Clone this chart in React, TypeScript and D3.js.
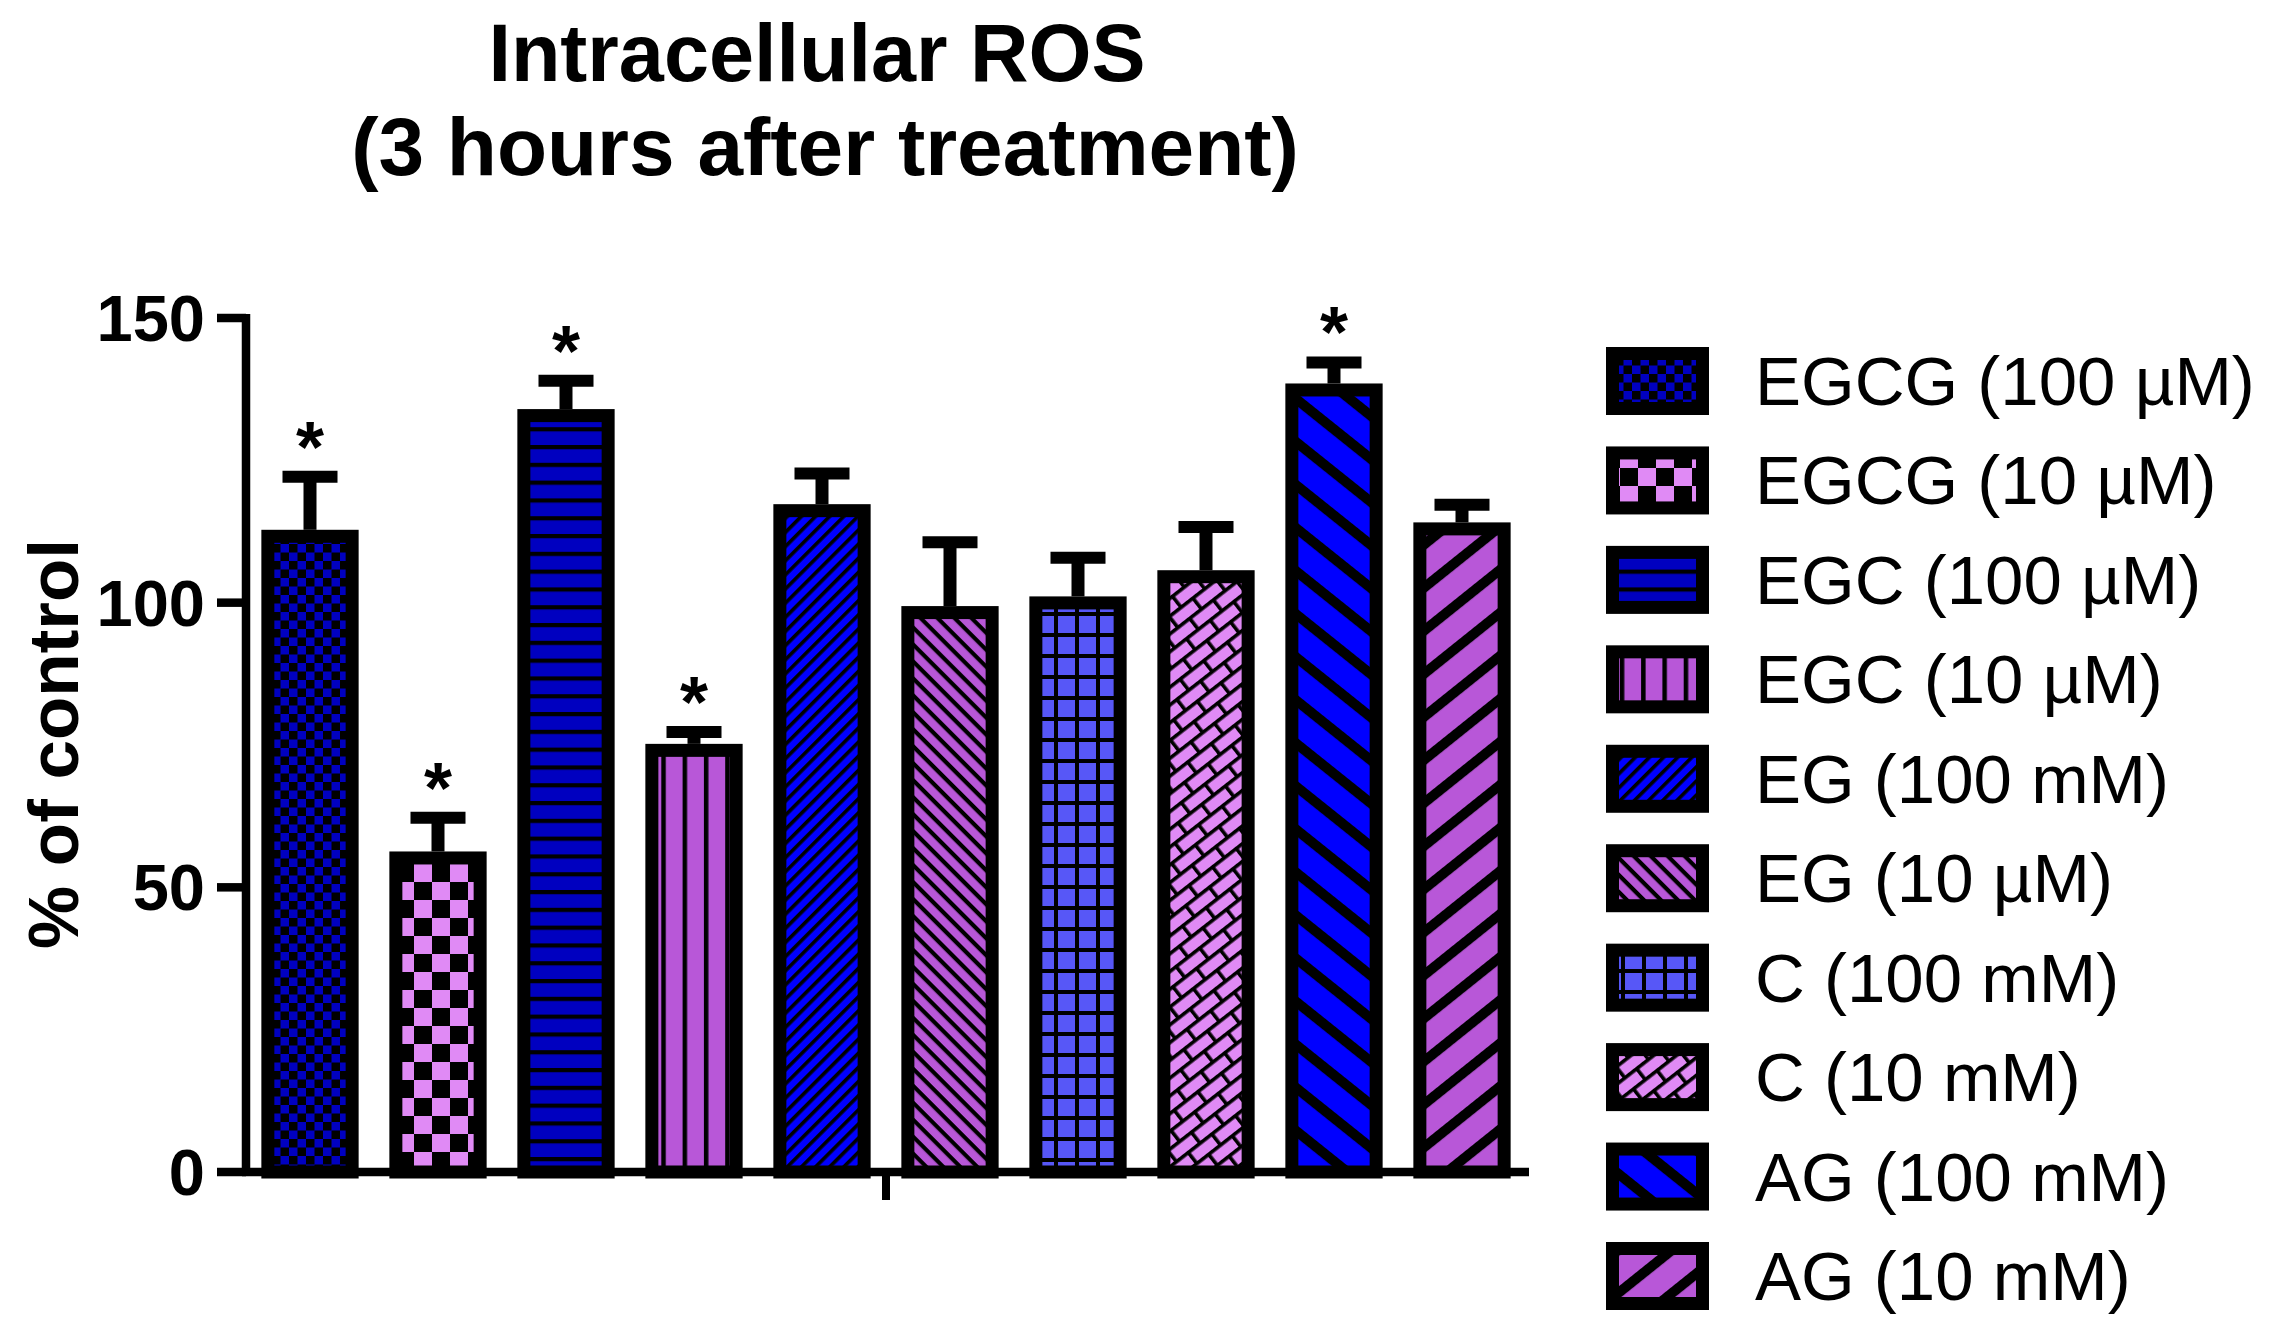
import * as d3 from "d3";
import React from "react";

// values (percent of control, mean and error)
const groups = [
	"EGCG (100 µM)",
	"EGCG (10 µM)",
	"EGC (100 µM)",
	"EGC (10 µM)",
	"EG (100 mM)",
	"EG (10 µM)",
	"C (100 mM)",
	"C (10 mM)",
	"AG (100 mM)",
	"AG (10 mM)",
];
const means = [112.8, 56.3, 134.0, 75.2, 117.3, 99.4, 101.1, 105.7, 138.5, 114.1];
const errors = [9.3, 5.9, 5.0, 2.1, 5.4, 11.2, 6.8, 7.6, 3.7, 3.1];
const significant = [true, true, true, true, false, false, false, false, true, false];
const yTicks = [0, 50, 100, 150];

const W = 2273;
const H = 1335;
const FONT = "'Liberation Sans', Arial, sans-serif";

const DARK_BLUE = "#0000c0";
const PINK = "#e08af5";
const PURPLE = "#b857d8";
const BLUE = "#0000ff";
const MID_BLUE = "#5757f7";

// one fill pattern per group
const Patterns = () => (
	<defs>
		{/* fine checker */}
		<pattern id="pat0" patternUnits="userSpaceOnUse" width={17} height={17}>
			<rect width={17} height={17} fill={DARK_BLUE} />
			<rect width={8.5} height={8.5} fill="#000" />
			<rect x={8.5} y={8.5} width={8.5} height={8.5} fill="#000" />
		</pattern>
		{/* coarse checker */}
		<pattern id="pat1" patternUnits="userSpaceOnUse" width={36} height={36}>
			<rect width={36} height={36} fill={PINK} />
			<rect width={18} height={18} fill="#000" />
			<rect x={18} y={18} width={18} height={18} fill="#000" />
		</pattern>
		{/* horizontal stripes */}
		<pattern id="pat2" patternUnits="userSpaceOnUse" width={20} height={17.8}>
			<rect width={20} height={17.8} fill={DARK_BLUE} />
			<rect width={20} height={4.2} fill="#000" />
		</pattern>
		{/* vertical stripes */}
		<pattern id="pat3" patternUnits="userSpaceOnUse" width={21.3} height={20} x={1}>
			<rect width={21.3} height={20} fill={PURPLE} />
			<rect width={4.5} height={20} fill="#000" />
		</pattern>
		{/* thin / */}
		<pattern id="pat4" patternUnits="userSpaceOnUse" width={20} height={10} patternTransform="rotate(-45)">
			<rect width={20} height={10} fill={BLUE} />
			<rect width={20} height={3.6} fill="#000" />
		</pattern>
		{/* thin \ */}
		<pattern id="pat5" patternUnits="userSpaceOnUse" width={20} height={12} patternTransform="rotate(45)">
			<rect width={20} height={12} fill={PURPLE} />
			<rect width={20} height={4.2} fill="#000" />
		</pattern>
		{/* grid */}
		<pattern id="pat6" patternUnits="userSpaceOnUse" width={21} height={21} x={4} y={3}>
			<rect width={21} height={21} fill={MID_BLUE} />
			<rect width={4} height={21} fill="#000" />
			<rect width={21} height={4} fill="#000" />
		</pattern>
		{/* bricks */}
		<pattern id="pat7" patternUnits="userSpaceOnUse" width={30} height={28} patternTransform="rotate(-38)">
			<rect width={30} height={28} fill={PINK} />
			<rect width={30} height={3.6} fill="#000" />
			<rect y={14} width={30} height={3.6} fill="#000" />
			<rect width={3.6} height={14} fill="#000" />
			<rect x={15} y={14} width={3.6} height={14} fill="#000" />
		</pattern>
		{/* wide \ */}
		<pattern id="pat8" patternUnits="userSpaceOnUse" width={40} height={33.6} patternTransform="rotate(38.7)">
			<rect width={40} height={33.6} fill={BLUE} />
			<rect width={40} height={10} fill="#000" />
		</pattern>
		{/* wide / */}
		<pattern id="pat9" patternUnits="userSpaceOnUse" width={40} height={33.6} patternTransform="rotate(-38.7)">
			<rect width={40} height={33.6} fill={PURPLE} />
			<rect width={40} height={10} fill="#000" />
		</pattern>
	</defs>
);

const App = (): JSX.Element => {
	const axisX = 246;
	const axisEnd = 1529;
	const barStroke = 13;

	const x = d3
		.scaleBand<string>()
		.domain(groups)
		.range([axisX, axisX + 1280])
		.paddingInner(0.24)
		.paddingOuter(0.12);

	const y = d3.scaleLinear().domain([0, 150]).range([1172, 318]);

	const legendY = d3
		.scalePoint<string>()
		.domain(groups)
		.range([381, 1276]);

	const bw = x.bandwidth();
	const midX = (axisX + axisX + 1280) / 2;

	return (
		<svg
			width={W}
			height={H}
			viewBox={`0 0 ${W} ${H}`}
			style={{ position: "absolute", left: 0, top: 0, background: "#fff" }}
			fontFamily={FONT}
		>
			<Patterns />
			<rect width={W} height={H} fill="#fff" />

			{/* title */}
			<text x={817} y={81} textAnchor="middle" fontSize={81} fontWeight="bold">
				Intracellular ROS
			</text>
			<text x={825} y={175} textAnchor="middle" fontSize={82} fontWeight="bold">
				(3 hours after treatment)
			</text>

			{/* y axis */}
			<line x1={axisX} x2={axisX} y1={y(150) - 4} y2={y(0) + 4} stroke="#000" strokeWidth={8.5} />
			{yTicks.map((t) => (
				<g key={t}>
					<line x1={217} x2={axisX} y1={y(t)} y2={y(t)} stroke="#000" strokeWidth={8.5} />
					<text x={205} y={y(t) + 23} textAnchor="end" fontSize={65} fontWeight="bold">
						{t}
					</text>
				</g>
			))}
			<text
				transform={`translate(78, 744) rotate(-90)`}
				textAnchor="middle"
				fontSize={71}
				fontWeight="bold"
			>
				% of control
			</text>

			{/* x axis */}
			<line x1={axisX - 4} x2={axisEnd} y1={y(0)} y2={y(0)} stroke="#000" strokeWidth={8.5} />
			<line x1={midX} x2={midX} y1={y(0)} y2={1200} stroke="#000" strokeWidth={8} />

			{/* bars */}
			{groups.map((g, i) => {
				const x0 = x(g)!;
				const top = y(means[i]);
				const cx = x0 + bw / 2;
				const capY = y(means[i] + errors[i]);
				return (
					<g key={g}>
						<line x1={cx} x2={cx} y1={top} y2={capY} stroke="#000" strokeWidth={13} />
						<line x1={cx - 27.5} x2={cx + 27.5} y1={capY} y2={capY} stroke="#000" strokeWidth={12} />
						<rect
							x={x0 + barStroke / 2}
							y={top + barStroke / 2}
							width={bw - barStroke}
							height={y(0) - top - barStroke / 2}
							fill={`url(#pat${i})`}
							stroke="#000"
							strokeWidth={barStroke}
						/>
						{significant[i] && (
							<text x={cx} y={capY - 5} textAnchor="middle" fontSize={72} fontWeight="bold">
								*
							</text>
						)}
					</g>
				);
			})}

			{/* legend */}
			{groups.map((g, i) => {
				const cy = legendY(g)!;
				return (
					<g key={`leg-${g}`}>
						<rect
							x={1606 + 6.5}
							y={cy - 34 + 6.5}
							width={103 - 13}
							height={68 - 13}
							fill={`url(#pat${i})`}
							stroke="#000"
							strokeWidth={13}
						/>
						<text x={1755} y={cy + 24} fontSize={69}>
							{g}
						</text>
					</g>
				);
			})}
		</svg>
	);
};

export default App;
